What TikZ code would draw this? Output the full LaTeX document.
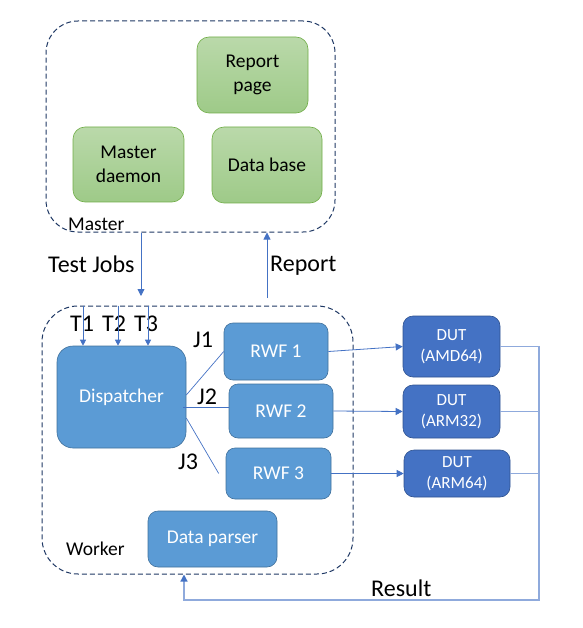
\documentclass[tikz,border=0pt]{standalone}
\usepackage{fontspec}
\setmainfont{Carlito}
\usetikzlibrary{arrows.meta}
\definecolor{navy}{RGB}{31,56,100}
\definecolor{arrowblue}{RGB}{68,114,196}
\definecolor{lblue}{RGB}{91,155,213}
\definecolor{lblueb}{RGB}{65,113,156}
\definecolor{dblue}{RGB}{68,114,196}
\definecolor{dblueb}{RGB}{47,82,143}
\definecolor{gtop}{RGB}{186,217,170}
\definecolor{gbot}{RGB}{158,202,136}
\definecolor{gborder}{RGB}{112,173,71}
\definecolor{resblue}{RGB}{143,170,220}
\begin{document}
\begin{tikzpicture}[x=1pt,y=-1pt,
  container/.style={draw=navy, dash pattern=on 5pt off 3pt, line width=1pt, rounded corners=32pt, inner sep=0pt},
  greenbox/.style={draw=gborder, line width=0.6pt, top color=gtop, bottom color=gbot, rounded corners=12pt, align=center, font=\fontsize{19.5}{23.5}\selectfont, inner sep=0pt},
  lbox/.style={draw=lblueb, line width=0.6pt, fill=lblue, text=white, align=center, font=\fontsize{19.5}{23.5}\selectfont, inner sep=0pt},
  dbox/.style={draw=dblueb, line width=0.6pt, fill=dblue, text=white, align=center, rounded corners=10pt, font=\fontsize{17}{21}\selectfont, inner sep=0pt},
  biglabel/.style={anchor=base west, inner sep=0pt, font=\fontsize{24}{28}\selectfont},
  midlabel/.style={anchor=base west, inner sep=0pt, font=\fontsize{19.5}{23}\selectfont},
  arr/.style={draw=arrowblue, line width=0.8pt, -{Triangle[length=7pt,width=7pt]}},
  jline/.style={draw=arrowblue, line width=0.7pt},
  resline/.style={draw=resblue, line width=1.2pt},
]
\useasboundingbox (0,0) rectangle (582,628);

% containers
\node[container, minimum width=289pt, minimum height=211pt] (master) at (190.5,126.5) {};
\node[container, minimum width=311pt, minimum height=268pt, rounded corners=36pt] (worker) at (197.5,440) {};

% master boxes
\node[greenbox, minimum width=111pt, minimum height=76pt] (report) at (252.5,75) {Report\\page};
\node[greenbox, minimum width=111pt, minimum height=75pt] (daemon) at (128.5,164.5) {Master\\daemon};
\node[greenbox, minimum width=110pt, minimum height=76pt] (db) at (267,165) {Data base};

% worker boxes
\node[lbox, rounded corners=16pt, minimum width=129pt, minimum height=102pt] (disp) at (121.5,397) {Dispatcher};
\node[lbox, rounded corners=9pt, minimum width=104pt, minimum height=57pt] (rwf1) at (276,351.5) {RWF 1};
\node[lbox, rounded corners=9pt, minimum width=104pt, minimum height=54pt] (rwf2) at (281,411) {RWF 2};
\node[lbox, rounded corners=9pt, minimum width=105pt, minimum height=51pt] (rwf3) at (278.5,473.5) {RWF 3};
\node[lbox, rounded corners=10pt, minimum width=129pt, minimum height=56pt] (dp) at (212.5,539) {Data parser};

% DUT boxes
\node[dbox, minimum width=97pt, minimum height=61pt] (dut1) at (451.5,346.5) {DUT\\(AMD64)};
\node[dbox, minimum width=97pt, minimum height=53pt] (dut2) at (451.5,411.5) {DUT\\(ARM32)};
\node[dbox, minimum width=106pt, minimum height=47pt] (dut3) at (457,473.5) {DUT\\(ARM64)};

% labels
\node[midlabel] (lmaster) at (68,230) {Master};
\node[midlabel] (lworker) at (66,555) {Worker};
\node[biglabel] (ltj) at (48,272) {Test Jobs};
\node[biglabel] (lrep) at (270,271) {Report};
\node[biglabel] (lres) at (371,596) {Result};
\node[biglabel] (lt1) at (70,331) {T1};
\node[biglabel] (lt2) at (102,331) {T2};
\node[biglabel] (lt3) at (134,331) {T3};
\node[biglabel] (lj1) at (193,347) {J1};
\node[biglabel] (lj2) at (197,404) {J2};
\node[biglabel] (lj3) at (178,469) {J3};

% master <-> worker
\coordinate (tjend) at (141,296);
\coordinate (rpstart) at (267,298);
\draw[arr] (master.south -| tjend) -- (tjend);
\draw[arr] (rpstart) -- (master.south -| rpstart);

% T arrows
\coordinate (t1) at (83,0);
\coordinate (t2) at (118,0);
\coordinate (t3) at (148,0);
\draw[arr, -{Triangle[length=6pt,width=6pt]}] (worker.north -| t1) -- (disp.north -| t1);
\draw[arr, -{Triangle[length=6pt,width=6pt]}] (worker.north -| t2) -- (disp.north -| t2);
\draw[arr, -{Triangle[length=6pt,width=6pt]}] (worker.north -| t3) -- (disp.north -| t3);

% J lines
\draw[jline] ([yshift=2pt]disp.east) -- (rwf1.west);
\draw[jline] ([yshift=-10pt,xshift=-3pt]disp.east) -- ([yshift=-10pt]disp.east -| rwf2.west);
\draw[jline] ([yshift=-21pt]disp.east) -- ([xshift=-7pt]rwf3.west);

% RWF -> DUT
\draw[arr] (rwf1.east) -- (dut1.west);
\draw[arr] (rwf2.east) -- (dut2.west);
\draw[arr] (rwf3.east) -- (dut3.west);

% Result
\coordinate (rx) at (539,600);
\coordinate (rbot) at (184,600);
\draw[resline] (dut2.east) -- (dut2.east -| rx);
\draw[resline] (dut3.east) -- (dut3.east -| rx);
\draw[resline, -{Triangle[length=7pt,width=7pt,color=arrowblue]}] (dut1.east) -| (rx) -- (rbot) -- (worker.south -| rbot);
\end{tikzpicture}
\end{document}
